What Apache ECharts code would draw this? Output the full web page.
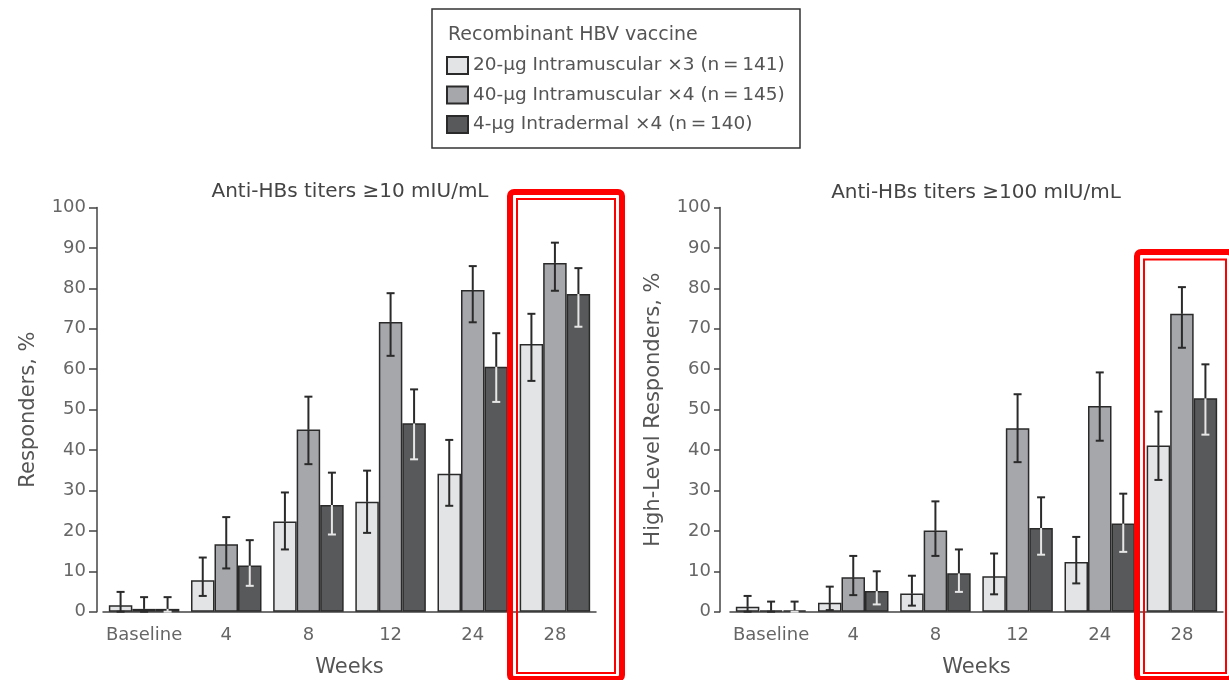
<!DOCTYPE html>
<html>
<head>
<meta charset="utf-8">
<script src="https://cdn.jsdelivr.net/npm/echarts@6/dist/echarts.min.js"></script>
<style>html,body{margin:0;padding:0;background:#fff}#c{width:1229px;height:680px}</style>
</head>
<body>
<div id="c"></div>
<script>
// ---- data ----
const weeks = ['Baseline', '4', '8', '12', '24', '28'];
const seriesNames = ['20-μg Intramuscular ×3 (n\u2009=\u2009141)', '40-μg Intramuscular ×4 (n\u2009=\u2009145)', '4-μg Intradermal ×4 (n\u2009=\u2009140)'];
const yTicksMin = 0, yTicksMax = 100, yTickStep = 10;

// Anti-HBs >= 10 mIU/mL (responders, %)
const r10_im20 = [1.6, 7.8, 22.3, 27.2, 34.1, 66.2];
const r10_im20_lo = [0, 3.9, 15.4, 19.5, 26.2, 57.1];
const r10_im20_hi = [4.9, 13.4, 29.5, 34.9, 42.5, 73.7];
const r10_im40 = [0.7, 16.7, 45.1, 71.7, 79.6, 86.3];
const r10_im40_lo = [0, 10.7, 36.5, 63.3, 71.6, 79.4];
const r10_im40_hi = [3.6, 23.4, 53.2, 78.8, 85.5, 91.3];
const r10_id4 = [0.7, 11.4, 26.4, 46.6, 60.6, 78.6];
const r10_id4_lo = [0, 6.4, 19.1, 37.7, 51.9, 70.5];
const r10_id4_hi = [3.6, 17.7, 34.4, 55.0, 68.9, 85.0];

// Anti-HBs >= 100 mIU/mL (high-level responders, %)
const r100_im20 = [1.2, 2.2, 4.5, 8.8, 12.3, 41.1];
const r100_im20_lo = [0, 0.4, 1.5, 4.3, 7.0, 32.6];
const r100_im20_hi = [3.9, 6.2, 8.9, 14.4, 18.5, 49.5];
const r100_im40 = [0.3, 8.5, 20.1, 45.4, 50.9, 73.7];
const r100_im40_lo = [0, 4.1, 13.8, 37.0, 42.3, 65.3];
const r100_im40_hi = [2.5, 13.8, 27.3, 53.8, 59.2, 80.3];
const r100_id4 = [0.3, 5.1, 9.5, 20.7, 21.8, 52.8];
const r100_id4_lo = [0, 1.8, 4.9, 14.1, 14.8, 43.8];
const r100_id4_hi = [2.5, 10.0, 15.4, 28.3, 29.2, 61.2];

// ---- style ----
const FONT = 'DejaVu Sans';
const fills = ['#e3e4e6', '#a6a7ab', '#58595b'];
const BW = 23.5;
const ERR_DARK = '#2a2a2a', ERR_LIGHT = '#e6e6e6';

const chart = echarts.init(document.getElementById('c'), null, {renderer: 'canvas'});

function barSeries(idx, gi, vals) {
  return {
    type: 'bar', name: seriesNames[idx], xAxisIndex: gi, yAxisIndex: gi,
    data: vals, barWidth: BW, barGap: '0%',
    itemStyle: {color: fills[idx], borderColor: '#2a2a2a', borderWidth: 1.5},
    z: 2, silent: true
  };
}
function errSeries(idx, gi, vals, lo, hi) {
  const data = vals.map((v, i) => [i, lo[i], hi[i], v]);
  return {
    type: 'custom', xAxisIndex: gi, yAxisIndex: gi, z: 5, silent: true,
    encode: {x: 0, y: [1, 2]},
    data: data,
    renderItem: function (params, api) {
      const i = api.value(0);
      const pLo = api.coord([i, api.value(1)]);
      const pHi = api.coord([i, api.value(2)]);
      const pV = api.coord([i, api.value(3)]);
      const x = pLo[0] + (idx - 1) * BW;
      const cap = 4;
      const lowerColor = idx === 2 ? ERR_LIGHT : ERR_DARK;
      const lw = 2;
      return {
        type: 'group',
        children: [
          {type: 'line', shape: {x1: x, y1: pLo[1], x2: x, y2: pV[1]}, style: {stroke: lowerColor, lineWidth: lw}},
          {type: 'line', shape: {x1: x - cap, y1: pLo[1], x2: x + cap, y2: pLo[1]}, style: {stroke: lowerColor, lineWidth: lw}},
          {type: 'line', shape: {x1: x, y1: pV[1], x2: x, y2: pHi[1]}, style: {stroke: ERR_DARK, lineWidth: lw}},
          {type: 'line', shape: {x1: x - cap, y1: pHi[1], x2: x + cap, y2: pHi[1]}, style: {stroke: ERR_DARK, lineWidth: lw}}
        ]
      };
    }
  };
}
function xAx(gi) {
  return {
    type: 'category', gridIndex: gi, data: weeks,
    axisLine: {lineStyle: {color: '#444', width: 1.5}},
    axisTick: {show: false},
    axisLabel: {fontFamily: FONT, fontSize: 18, color: '#666', margin: 14.5, interval: 0},
    name: 'Weeks', nameLocation: 'middle', nameGap: 45,
    nameTextStyle: {fontFamily: FONT, fontSize: 21, color: '#555'}
  };
}
function yAx(gi, name, offset, gap, tickLen, margin) {
  return {
    type: 'value', gridIndex: gi, min: yTicksMin, max: yTicksMax, interval: yTickStep,
    offset: offset,
    axisLine: {show: true, lineStyle: {color: '#444', width: 1.5}},
    axisTick: {show: true, length: tickLen, lineStyle: {color: '#444', width: 1.5}},
    splitLine: {show: false},
    axisLabel: {fontFamily: FONT, fontSize: 18, color: '#666', margin: margin},
    name: name, nameLocation: 'middle', nameGap: gap,
    nameTextStyle: {fontFamily: FONT, fontSize: 21, color: '#555'}
  };
}

const option = {
  backgroundColor: '#fff',
  animation: false,
  textStyle: {fontFamily: FONT},
  grid: [
    {left: 103, right: 633, top: 207.5, bottom: 68.3, containLabel: false, outerBoundsMode: 'none'},
    {left: 730, right: 6, top: 207.5, bottom: 68.3, containLabel: false, outerBoundsMode: 'none'}
  ],
  xAxis: [xAx(0), xAx(1)],
  yAxis: [
    yAx(0, 'Responders, %', 6, 58, 8, 11),
    yAx(1, 'High-Level Responders, %', 10, 56, 6, 9)
  ],
  legend: {
    data: seriesNames, orient: 'vertical', left: 446, top: 56, padding: 0,
    itemWidth: 21, itemHeight: 17, itemGap: 10.5, icon: 'rect',
    textStyle: {fontFamily: FONT, fontSize: 18.5, color: '#555'},
    selectedMode: false
  },
  series: [
    barSeries(0, 0, r10_im20), barSeries(1, 0, r10_im40), barSeries(2, 0, r10_id4),
    barSeries(0, 1, r100_im20), barSeries(1, 1, r100_im40), barSeries(2, 1, r100_id4),
    errSeries(0, 0, r10_im20, r10_im20_lo, r10_im20_hi),
    errSeries(1, 0, r10_im40, r10_im40_lo, r10_im40_hi),
    errSeries(2, 0, r10_id4, r10_id4_lo, r10_id4_hi),
    errSeries(0, 1, r100_im20, r100_im20_lo, r100_im20_hi),
    errSeries(1, 1, r100_im40, r100_im40_lo, r100_im40_hi),
    errSeries(2, 1, r100_id4, r100_id4_lo, r100_id4_hi)
  ],
  graphic: [
    // legend frame and heading
    {type: 'rect', shape: {x: 432, y: 9, width: 368, height: 139}, style: {fill: 'none', stroke: '#333', lineWidth: 1.5}, silent: true},
    {type: 'text', x: 448, y: 35, style: {text: 'Recombinant HBV vaccine', fontFamily: FONT, fontSize: 19, fill: '#555', verticalAlign: 'middle'}, silent: true},
    // panel titles
    {type: 'text', x: 350, y: 192, style: {text: 'Anti-HBs titers ≥10 mIU/mL', fontFamily: FONT, fontSize: 20, fill: '#444', align: 'center', verticalAlign: 'middle'}, silent: true},
    {type: 'text', x: 976, y: 193, style: {text: 'Anti-HBs titers ≥100 mIU/mL', fontFamily: FONT, fontSize: 20, fill: '#444', align: 'center', verticalAlign: 'middle'}, silent: true},
    // red highlight boxes around week 28
    {type: 'rect', z: 100, shape: {x: 510, y: 192, width: 112, height: 487, r: 4}, style: {fill: 'none', stroke: '#ff0000', lineWidth: 6}, silent: true},
    {type: 'rect', z: 100, shape: {x: 517, y: 199, width: 98, height: 474}, style: {fill: 'none', stroke: '#ff0000', lineWidth: 2}, silent: true},
    {type: 'rect', z: 100, shape: {x: 1137, y: 252, width: 95, height: 427, r: 4}, style: {fill: 'none', stroke: '#ff0000', lineWidth: 6}, silent: true},
    {type: 'rect', z: 100, shape: {x: 1144, y: 259.5, width: 82, height: 413.5}, style: {fill: 'none', stroke: '#ff0000', lineWidth: 2}, silent: true}
  ]
};
chart.setOption(option);
</script>
</body>
</html>
